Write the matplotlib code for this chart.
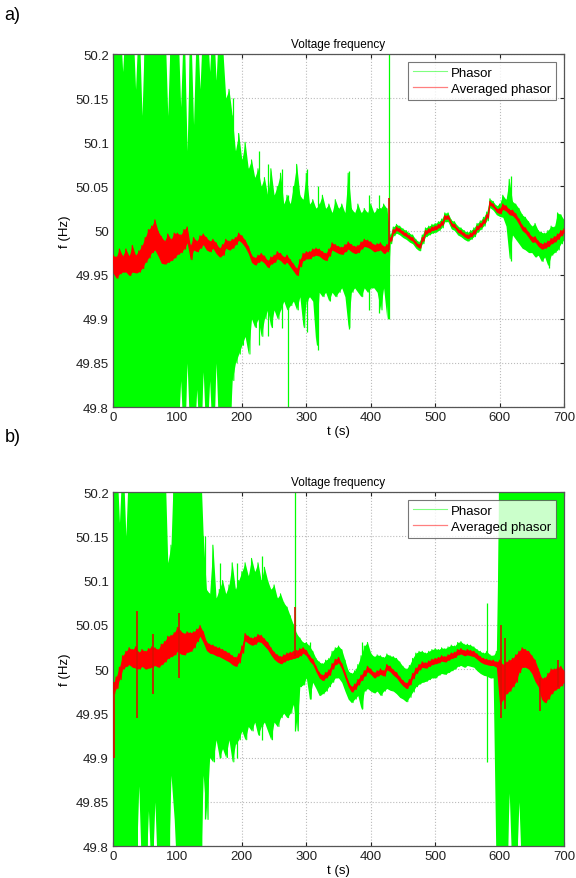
import matplotlib
matplotlib.use("Agg")
import matplotlib.pyplot as plt
import numpy as np

plt.rcParams['font.family'] = ['Liberation Sans', 'DejaVu Sans']

# sample grid (every 5 s); "hi" values drawn at t, "lo" values at t + 2.5 s
t_s = np.arange(0, 705, 5)

# ---------------- panel a ----------------
green_hi_a = [
    50.25, 50.25, 50.25, 50.18, 50.25, 50.25, 50.25, 50.16, 50.25, 50.13,
    50.25, 50.25, 50.25, 50.25, 50.25, 50.25, 50.25, 50.13, 50.25, 50.25,
    50.25, 50.14, 50.25, 50.09, 50.25, 50.12, 50.25, 50.16, 50.25, 50.25,
    50.18, 50.25, 50.17, 50.25, 50.21, 50.15, 50.16, 50.13, 50.09, 50.11,
    50.08, 50.10, 50.07, 50.08, 50.06, 50.07, 50.05, 50.06, 50.04, 50.07,
    50.04, 50.05, 50.065, 50.03, 50.04, 50.03, 50.05, 50.075, 50.04, 50.035,
    50.065, 50.03, 50.035, 50.025, 50.03, 50.04, 50.025, 50.03, 50.02, 50.035,
    50.025, 50.03, 50.02, 50.065, 50.025, 50.02, 50.03, 50.02, 50.025, 50.02,
    50.03, 50.02, 50.025, 50.025, 50.03, 50.025, 49.995, 50.004, 50.007, 50.005,
    50.002, 50.0, 49.997, 49.995, 49.99, 49.987, 49.995, 50.003, 50.005, 50.007,
    50.008, 50.01, 50.013, 50.02, 50.02, 50.012, 50.01, 50.005, 50.003, 50.0,
    49.998, 50.0, 50.003, 50.008, 50.011, 50.015, 50.021, 50.036, 50.033, 50.028,
    50.03, 50.04, 50.035, 50.058, 50.033, 50.03, 50.025, 50.018, 50.015, 50.01,
    50.005, 50.008, 50.0, 49.998, 49.997, 50.0, 50.005, 50.004, 50.02, 50.018,
    50.012]
green_lo_a = [
    49.75, 49.75, 49.75, 49.75, 49.75, 49.75, 49.75, 49.75, 49.75, 49.75,
    49.75, 49.75, 49.75, 49.75, 49.75, 49.75, 49.75, 49.75, 49.75, 49.75,
    49.75, 49.83, 49.75, 49.85, 49.75, 49.75, 49.82, 49.75, 49.84, 49.75,
    49.83, 49.75, 49.85, 49.75, 49.75, 49.75, 49.75, 49.83, 49.85, 49.86,
    49.87, 49.88, 49.86, 49.90, 49.89, 49.90, 49.88, 49.90, 49.91, 49.89,
    49.91, 49.90, 49.91, 49.92, 49.91, 49.915, 49.92, 49.91, 49.925, 49.89,
    49.92, 49.925, 49.92, 49.87, 49.93, 49.925, 49.93, 49.92, 49.93, 49.925,
    49.93, 49.935, 49.925, 49.89, 49.93, 49.935, 49.93, 49.925, 49.935, 49.93,
    49.935, 49.935, 49.93, 49.91, 49.935, 49.90, 49.985, 49.994, 49.997, 49.995,
    49.992, 49.99, 49.987, 49.985, 49.98, 49.977, 49.985, 49.993, 49.995, 49.997,
    49.998, 50.0, 50.003, 50.01, 50.01, 50.002, 50.0, 49.995, 49.993, 49.99,
    49.988, 49.99, 49.993, 49.998, 50.001, 50.005, 50.011, 50.026, 50.023, 50.018,
    50.016, 50.015, 50.005, 49.968, 49.995, 49.99, 49.985, 49.98, 49.978, 49.975,
    49.975, 49.97, 49.972, 49.965, 49.97, 49.96, 49.972, 49.975, 49.978, 49.985,
    49.99]
red_hi_a = [
    49.972, 49.970, 49.979, 49.971, 49.979, 49.971, 49.983, 49.972, 49.977, 49.983,
    49.992, 50.001, 50.005, 50.012, 49.999, 49.993, 49.988, 49.996, 49.990, 49.997,
    49.997, 49.995, 50.001, 50.004, 49.983, 49.992, 49.988, 49.994, 49.996, 49.992,
    49.988, 49.990, 49.986, 49.980, 49.984, 49.990, 49.988, 49.990, 49.992, 49.997,
    49.994, 49.989, 49.982, 49.972, 49.969, 49.972, 49.974, 49.971, 49.966, 49.970,
    49.972, 49.976, 49.974, 49.970, 49.972, 49.967, 49.962, 49.957, 49.967, 49.974,
    49.976, 49.976, 49.979, 49.980, 49.979, 49.976, 49.974, 49.979, 49.986, 49.984,
    49.982, 49.981, 49.984, 49.987, 49.984, 49.982, 49.983, 49.987, 49.990, 49.989,
    49.987, 49.984, 49.985, 49.986, 49.982, 49.984, 49.992, 50.001, 50.004, 50.002,
    49.999, 49.997, 49.994, 49.992, 49.987, 49.984, 49.992, 50.000, 50.002, 50.004,
    50.005, 50.007, 50.010, 50.017, 50.017, 50.009, 50.007, 50.002, 50.000, 49.997,
    49.995, 49.997, 50.000, 50.005, 50.008, 50.012, 50.018, 50.033, 50.030, 50.025,
    50.025, 50.030, 50.028, 50.024, 50.023, 50.019, 50.013, 50.006, 50.003, 49.998,
    49.993, 49.993, 49.988, 49.985, 49.986, 49.988, 49.991, 49.993, 49.996, 50.000,
    50.002]
red_lo_a = [
    49.952, 49.946, 49.951, 49.953, 49.953, 49.949, 49.953, 49.952, 49.953, 49.957,
    49.964, 49.969, 49.975, 49.978, 49.971, 49.963, 49.962, 49.964, 49.966, 49.969,
    49.973, 49.975, 49.979, 49.986, 49.967, 49.978, 49.976, 49.980, 49.984, 49.978,
    49.976, 49.980, 49.974, 49.970, 49.972, 49.980, 49.978, 49.980, 49.984, 49.989,
    49.986, 49.981, 49.974, 49.964, 49.961, 49.964, 49.966, 49.963, 49.958, 49.962,
    49.964, 49.968, 49.966, 49.962, 49.964, 49.959, 49.954, 49.949, 49.959, 49.966,
    49.968, 49.968, 49.971, 49.972, 49.971, 49.968, 49.966, 49.971, 49.978, 49.976,
    49.974, 49.973, 49.976, 49.979, 49.976, 49.974, 49.975, 49.979, 49.982, 49.981,
    49.979, 49.976, 49.977, 49.978, 49.974, 49.976, 49.988, 49.997, 50.000, 49.998,
    49.995, 49.993, 49.990, 49.988, 49.983, 49.980, 49.988, 49.996, 49.998, 50.000,
    50.001, 50.003, 50.006, 50.013, 50.013, 50.005, 50.003, 49.998, 49.996, 49.993,
    49.991, 49.993, 49.996, 50.001, 50.004, 50.008, 50.014, 50.029, 50.026, 50.021,
    50.019, 50.024, 50.022, 50.018, 50.017, 50.013, 50.007, 50.000, 49.997, 49.992,
    49.987, 49.987, 49.982, 49.979, 49.980, 49.982, 49.985, 49.987, 49.990, 49.994,
    49.998]
# isolated spikes: time, low, high
green_spk_t_a = [187, 226, 241, 262, 272, 301, 318, 366, 397, 413, 428, 618, 676]
green_spk_lo_a = [49.84, 49.87, 49.88, 49.89, 49.79, 49.885, 49.865, 49.888, 49.91, 49.907, 49.90, 49.965, 49.958]
green_spk_hi_a = [50.15, 50.09, 50.075, 50.07, 50.04, 50.07, 50.05, 50.067, 50.04, 50.04, 50.25, 50.062, 49.99]
red_spk_t_a = [428]
red_spk_lo_a = [49.978]
red_spk_hi_a = [50.037]

# ---------------- panel b ----------------
green_hi_b = [
    50.25, 50.25, 50.165, 50.25, 50.15, 50.25, 50.25, 50.25, 50.25, 50.25,
    50.25, 50.25, 50.25, 50.25, 50.25, 50.25, 50.25, 50.12, 50.14, 50.25,
    50.25, 50.25, 50.25, 50.25, 50.25, 50.25, 50.25, 50.25, 50.15, 50.09,
    50.085, 50.14, 50.08, 50.09, 50.10, 50.085, 50.095, 50.12, 50.09, 50.10,
    50.11, 50.12, 50.105, 50.125, 50.11, 50.12, 50.10, 50.115, 50.10, 50.09,
    50.095, 50.08, 50.085, 50.075, 50.07, 50.06, 50.05, 50.04, 50.035, 50.03,
    50.03, 50.026, 50.02, 50.012, 50.008, 50.006, 50.01, 50.012, 50.02, 50.024,
    50.026, 50.022, 50.01, 49.998, 49.995, 49.998, 50.005, 50.015, 50.026, 50.03,
    50.018, 50.014, 50.016, 50.015, 50.013, 50.017, 50.015, 50.014, 50.012, 50.008,
    50.003, 50.0, 50.004, 50.012, 50.018, 50.02, 50.02, 50.018, 50.02, 50.022,
    50.023, 50.022, 50.024, 50.023, 50.025, 50.027, 50.026, 50.03, 50.031, 50.028,
    50.028, 50.027, 50.025, 50.022, 50.02, 50.018, 50.02, 50.016, 50.015, 50.02,
    50.25, 50.25, 50.25, 50.25, 50.25, 50.25, 50.25, 50.25, 50.25, 50.25,
    50.25, 50.25, 50.25, 50.25, 50.25, 50.25, 50.25, 50.25, 50.25, 50.25,
    50.25]
green_lo_b = [
    49.75, 49.75, 49.75, 49.75, 49.75, 49.75, 49.75, 49.75, 49.868, 49.75,
    49.75, 49.84, 49.75, 49.85, 49.75, 49.75, 49.75, 49.75, 49.88, 49.83,
    49.75, 49.75, 49.75, 49.75, 49.75, 49.75, 49.75, 49.75, 49.88, 49.83,
    49.90, 49.895, 49.92, 49.90, 49.91, 49.90, 49.92, 49.895, 49.915, 49.92,
    49.93, 49.92, 49.935, 49.93, 49.94, 49.925, 49.935, 49.94, 49.93, 49.92,
    49.94, 49.935, 49.945, 49.95, 49.945, 49.95, 49.96, 49.93, 49.98, 49.982,
    49.99, 49.966, 49.985, 49.978, 49.97, 49.972, 49.975, 49.98, 49.985, 49.99,
    49.99, 49.985, 49.975, 49.966, 49.962, 49.966, 49.97, 49.955, 49.975, 49.978,
    49.975, 49.973, 49.975, 49.97, 49.975, 49.978, 49.976, 49.975, 49.972, 49.968,
    49.966, 49.963, 49.968, 49.974, 49.98, 49.983, 49.985, 49.986, 49.988, 49.99,
    49.99, 49.993, 49.995, 49.994, 49.996, 49.998, 50.0, 50.003, 50.004, 50.002,
    50.004, 50.003, 50.002, 49.998, 49.995, 49.993, 49.992, 49.99, 49.99, 49.75,
    49.75, 49.75, 49.75, 49.86, 49.75, 49.75, 49.85, 49.75, 49.75, 49.75,
    49.75, 49.75, 49.75, 49.75, 49.75, 49.75, 49.75, 49.75, 49.75, 49.75,
    49.75]
red_hi_b = [
    49.983, 49.991, 50.002, 50.015, 50.020, 50.024, 50.022, 50.025, 50.019, 50.022,
    50.020, 50.023, 50.025, 50.024, 50.022, 50.028, 50.031, 50.037, 50.038, 50.041,
    50.047, 50.043, 50.040, 50.042, 50.041, 50.042, 50.045, 50.049, 50.042, 50.031,
    50.028, 50.027, 50.025, 50.024, 50.022, 50.020, 50.018, 50.015, 50.013, 50.017,
    50.026, 50.040, 50.037, 50.035, 50.036, 50.039, 50.038, 50.034, 50.030, 50.024,
    50.019, 50.016, 50.014, 50.016, 50.018, 50.019, 50.020, 50.021, 50.023, 50.024,
    50.021, 50.015, 50.011, 50.003, 49.996, 49.993, 49.996, 49.999, 50.006, 50.011,
    50.013, 50.006, 49.996, 49.986, 49.980, 49.983, 49.988, 49.993, 49.998, 50.003,
    50.000, 49.996, 49.998, 50.000, 49.998, 50.005, 50.003, 49.999, 49.996, 49.991,
    49.987, 49.984, 49.988, 49.995, 50.001, 50.005, 50.008, 50.007, 50.009, 50.011,
    50.012, 50.013, 50.015, 50.014, 50.016, 50.018, 50.019, 50.022, 50.023, 50.021,
    50.022, 50.021, 50.020, 50.017, 50.014, 50.012, 50.011, 50.010, 50.010, 50.008,
    50.010, 50.005, 50.008, 50.010, 50.012, 50.016, 50.020, 50.024, 50.022, 50.020,
    50.015, 50.010, 50.000, 49.990, 49.990, 49.995, 50.000, 50.000, 50.002, 50.003,
    49.998]
red_lo_b = [
    49.972, 49.978, 49.988, 50.000, 50.003, 50.005, 50.002, 50.001, 50.000, 50.003,
    50.000, 50.001, 50.002, 50.004, 50.002, 50.005, 50.008, 50.012, 50.014, 50.016,
    50.020, 50.017, 50.016, 50.019, 50.020, 50.024, 50.031, 50.037, 50.030, 50.021,
    50.018, 50.017, 50.015, 50.014, 50.012, 50.010, 50.008, 50.005, 50.003, 50.007,
    50.018, 50.032, 50.029, 50.027, 50.028, 50.031, 50.030, 50.026, 50.022, 50.016,
    50.011, 50.008, 50.006, 50.008, 50.010, 50.011, 50.012, 50.013, 50.015, 50.018,
    50.015, 50.009, 50.005, 49.997, 49.990, 49.987, 49.990, 49.993, 50.000, 50.005,
    50.007, 50.000, 49.990, 49.980, 49.974, 49.977, 49.982, 49.987, 49.992, 49.997,
    49.994, 49.990, 49.992, 49.994, 49.992, 49.999, 49.997, 49.993, 49.990, 49.985,
    49.981, 49.978, 49.982, 49.989, 49.995, 49.999, 50.002, 50.001, 50.003, 50.005,
    50.006, 50.007, 50.009, 50.008, 50.010, 50.012, 50.013, 50.016, 50.017, 50.015,
    50.016, 50.015, 50.014, 50.011, 50.008, 50.006, 50.005, 50.004, 50.004, 50.002,
    49.960, 49.965, 49.972, 49.975, 49.980, 49.985, 49.996, 50.002, 50.002, 50.000,
    49.995, 49.986, 49.980, 49.966, 49.962, 49.966, 49.972, 49.976, 49.978, 49.981,
    49.985]
green_spk_t_b = [143, 166, 192, 231, 283, 306, 386, 580]
green_spk_lo_b = [49.83, 49.90, 49.90, 49.92, 49.93, 49.966, 49.955, 49.895]
green_spk_hi_b = [50.15, 50.12, 50.12, 50.128, 50.25, 50.03, 50.03, 50.075]
red_spk_t_b = [1, 37, 62, 103, 283, 602, 608, 663, 690]
red_spk_lo_b = [49.90, 49.945, 49.972, 49.99, 50.015, 49.945, 49.955, 49.952, 49.98]
red_spk_hi_b = [49.985, 50.065, 50.04, 50.063, 50.07, 50.05, 50.035, 49.99, 50.01]

y_ticks = [49.8, 49.85, 49.9, 49.95, 50.0, 50.05, 50.1, 50.15, 50.2]
y_tick_labels = ['49.8', '49.85', '49.9', '49.95', '50', '50.05', '50.1', '50.15', '50.2']
x_ticks = [0, 100, 200, 300, 400, 500, 600, 700]

GREEN = '#00ff00'
RED = '#ff0000'


def zigzag(hi, lo):
    tt = np.empty(2 * len(t_s))
    yy = np.empty(2 * len(t_s))
    tt[0::2] = t_s
    tt[1::2] = t_s + 2.5
    yy[0::2] = hi
    yy[1::2] = lo
    return tt, yy


def draw(ax, g_hi, g_lo, r_hi, r_lo, gs, rs):
    # green band + its zigzag trace
    ax.fill_between(t_s, g_lo, g_hi, color=GREEN, lw=0, zorder=2)
    tg, yg = zigzag(g_hi, g_lo)
    ax.plot(tg, yg, color=GREEN, lw=0.8, label='Phasor', zorder=2)
    ax.vlines(gs[0], gs[1], gs[2], color=GREEN, lw=0.9, zorder=2)
    # averaged phasor
    ax.fill_between(t_s, r_lo, r_hi, color=RED, lw=0, zorder=3)
    tr, yr = zigzag(r_hi, r_lo)
    ax.plot(tr, yr, color=RED, lw=0.9, label='Averaged phasor', zorder=3)
    ax.vlines(rs[0], rs[1], rs[2], color='#d81000', lw=1.2, zorder=3)

    ax.set_xlim(0, 700)
    ax.set_ylim(49.8, 50.2)
    ax.set_xticks(x_ticks)
    ax.set_yticks(y_ticks)
    ax.set_yticklabels(y_tick_labels)
    ax.tick_params(direction='in', top=True, right=True, labelsize=9.5,
                   length=3, width=0.8, colors='#222222', pad=3)
    ax.grid(True, linestyle=':', color='#bbbbbb', linewidth=0.8)
    ax.set_axisbelow(True)
    for s in ax.spines.values():
        s.set_color('#555555')
        s.set_linewidth(0.9)
    ax.set_title('Voltage frequency', fontsize=8.5, pad=5)
    ax.set_xlabel('t (s)', fontsize=9.5, labelpad=1)
    ax.set_ylabel('f (Hz)', fontsize=9.5, labelpad=3)
    leg = ax.legend(loc='upper right', fontsize=9.5, frameon=True, fancybox=False,
                    borderaxespad=0.6, handlelength=2.6, handletextpad=0.3,
                    borderpad=0.35, labelspacing=0.3)
    leg.get_frame().set_edgecolor('#555555')
    leg.get_frame().set_linewidth(0.8)
    for h in leg.get_lines():
        h.set_alpha(0.5)


fig = plt.figure(figsize=(5.76, 8.79), dpi=100)
ax_a = fig.add_axes([0.1962, 0.5358, 0.783, 0.4016])
ax_b = fig.add_axes([0.1962, 0.0364, 0.783, 0.4027])

draw(ax_a, green_hi_a, green_lo_a, red_hi_a, red_lo_a,
     (green_spk_t_a, green_spk_lo_a, green_spk_hi_a),
     (red_spk_t_a, red_spk_lo_a, red_spk_hi_a))
draw(ax_b, green_hi_b, green_lo_b, red_hi_b, red_lo_b,
     (green_spk_t_b, green_spk_lo_b, green_spk_hi_b),
     (red_spk_t_b, red_spk_lo_b, red_spk_hi_b))

fig.text(0.008, 0.992, 'a)', fontsize=13, va='top', ha='left')
fig.text(0.008, 0.512, 'b)', fontsize=13, va='top', ha='left')

fig.savefig('out.png', dpi=100)
